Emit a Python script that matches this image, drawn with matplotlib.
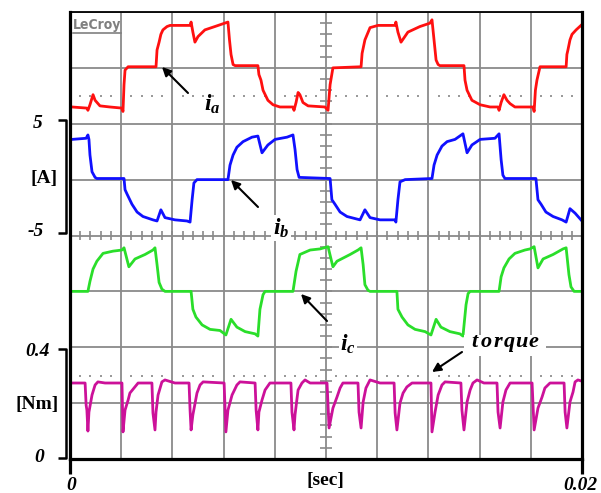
import numpy as np
import matplotlib
matplotlib.use('Agg')
import matplotlib.pyplot as plt
from matplotlib.lines import Line2D
from matplotlib.patches import Rectangle

plt.rcParams['mathtext.fontset'] = 'custom'
plt.rcParams['mathtext.it'] = 'Liberation Serif:italic:bold'
plt.rcParams['mathtext.rm'] = 'Liberation Serif:bold'

# time in ms (0..20 ms = 0..0.02 s), currents in A, torque in Nm
ia_t = [0.08, 0.66, 0.70, 0.78, 0.90, 0.98, 1.17, 1.56, 2.03, 2.07, 2.11, 2.15, 2.27,
        3.36, 3.40, 3.48, 3.55, 3.63, 3.79, 3.91, 4.69, 4.73, 4.80, 4.88, 5.00, 5.27,
        5.66, 6.17, 6.23, 6.29, 6.37, 6.45, 7.34, 7.38, 7.46, 7.54, 7.73, 7.93, 8.20,
        8.71, 8.75, 8.83, 8.91, 8.98, 9.10, 9.30, 9.96, 10.08, 10.16, 10.27, 11.37,
        11.41, 11.52, 11.72, 12.03, 12.70, 12.73, 12.81, 12.93, 13.05, 13.20, 13.67,
        14.06, 14.14, 14.22, 14.30, 14.38, 14.45, 15.39, 15.43, 15.51, 15.70, 16.02,
        16.41, 16.72, 16.76, 16.84, 16.95, 17.07, 17.19, 17.38, 18.09, 18.13, 18.18,
        18.24, 18.36, 19.38, 19.41, 19.45, 19.53, 19.61, 19.77, 19.96]
ia_a = [-3.5, -3.6, -3.8, -3.3, -2.4, -2.9, -3.4, -3.5, -3.6, -3.9, -1.5, -0.2, 0.1,
        0.1, 1.6, 2.3, 3.0, 3.4, 3.7, 3.8, 3.8, 4.1, 3.2, 2.3, 2.8, 3.4,
        3.7, 4.1, 2.5, 1.2, 0.3, 0.2, 0.2, -0.6, -1.1, -2.0, -2.9, -3.3, -3.5,
        -3.5, -3.8, -3.1, -2.2, -2.4, -3.1, -3.4, -3.5, -3.8, -1.5, 0.0, 0.1,
        1.3, 2.5, 3.6, 3.8, 3.8, 4.1, 3.2, 2.3, 2.7, 3.2, 3.7,
        4.0, 4.3, 2.5, 0.7, 0.3, 0.2, 0.2, -1.1, -2.0, -2.9, -3.3,
        -3.5, -3.5, -3.8, -3.1, -2.4, -2.9, -3.2, -3.5, -3.5, -3.9, -2.0,
        -1.1, 0.1, 0.1, 1.2, 1.6, 2.5, 3.0, 3.4, 3.8]

ib_t = [0.08, 0.63, 0.70, 0.74, 0.78, 0.86, 0.98, 1.05, 2.11, 2.15, 2.23, 2.42, 2.62,
        2.85, 3.24, 3.40, 3.55, 3.71, 4.10, 4.57, 4.69, 4.77, 4.84, 4.96, 6.17, 6.25,
        6.37, 6.52, 6.76, 7.11, 7.34, 7.50, 7.73, 8.01, 8.48, 8.71, 8.79, 8.87, 8.95,
        10.16, 10.23, 10.35, 10.55, 10.82, 11.33, 11.52, 11.72, 12.11, 12.70, 12.73,
        12.81, 12.89, 13.09, 14.14, 14.22, 14.34, 14.53, 14.73, 15.04, 15.35, 15.51,
        15.70, 16.02, 16.60, 16.76, 16.84, 16.91, 16.99, 18.20, 18.28, 18.40, 18.59,
        18.87, 19.22, 19.38, 19.53, 19.73, 19.96]
ib_a = [3.6, 3.7, 4.0, 3.6, 2.2, 0.7, 0.2, 0.1, 0.1, -0.9, -1.3, -2.2, -2.9,
        -3.3, -3.6, -3.7, -2.7, -3.4, -3.6, -3.7, -3.8, -1.8, -0.3, 0.0, 0.0, 1.3,
        2.2, 2.9, 3.4, 3.8, 3.9, 2.4, 3.1, 3.6, 3.8, 4.0, 2.7, 0.9, 0.2,
        0.1, -1.8, -2.2, -2.9, -3.3, -3.6, -2.7, -3.4, -3.6, -3.6, -3.8,
        -1.8, -0.2, 0.0, 0.1, 1.3, 2.2, 3.0, 3.4, 3.6, 4.1, 2.4,
        3.1, 3.6, 3.7, 4.1, 1.8, 0.4, 0.1, 0.1, -1.8, -2.2, -2.9,
        -3.3, -3.6, -3.8, -2.6, -3.0, -3.6]

ic_t = [0.08, 0.70, 0.78, 0.90, 1.05, 1.29, 1.68, 2.03, 2.11, 2.30, 2.54, 2.93, 3.24,
        3.32, 3.40, 3.48, 3.59, 3.71, 4.73, 4.80, 4.92, 5.16, 5.47, 5.86, 6.09, 6.29,
        6.52, 6.84, 7.23, 7.34, 7.42, 7.54, 7.62, 8.71, 8.83, 8.98, 9.38, 9.77, 10.08,
        10.27, 10.43, 10.94, 11.25, 11.37, 11.45, 11.52, 11.64, 11.72, 12.77, 12.81,
        12.97, 13.20, 13.48, 13.87, 14.10, 14.30, 14.49, 14.84, 15.23, 15.35, 15.47,
        15.55, 15.63, 16.76, 16.84, 16.95, 17.15, 17.38, 17.77, 17.97, 18.13, 18.28,
        18.48, 18.87, 19.26, 19.38, 19.49, 19.57, 19.69, 19.98]
ic_a = [0.0, 0.0, 0.9, 2.0, 2.7, 3.4, 3.6, 3.7, 3.9, 2.2, 2.9, 3.3, 3.7,
        3.9, 2.4, 0.8, 0.2, 0.0, 0.0, -1.6, -2.3, -3.0, -3.4, -3.5, -3.9, -2.5,
        -3.2, -3.6, -3.8, -4.0, -1.6, -0.3, 0.0, 0.0, 1.8, 3.3, 3.7, 3.8, 4.0,
        2.2, 2.7, 3.3, 3.7, 3.9, 2.4, 0.6, 0.1, 0.0, 0.0, -1.6,
        -2.3, -3.0, -3.4, -3.6, -3.9, -2.5, -3.2, -3.6, -3.8, -4.0, -1.2,
        -0.2, 0.0, 0.0, 1.3, 2.1, 2.9, 3.4, 3.7, 3.8, 4.0, 2.1,
        2.9, 3.3, 3.8, 3.9, 1.5, 0.4, 0.0, 0.0]

tq_t = [0.08, 0.59, 0.63, 0.66, 0.70, 0.74, 0.86, 0.98, 1.09, 1.37, 2.03, 2.07, 2.15,
        2.27, 2.34, 2.50, 2.66, 3.20, 3.24, 3.32, 3.36, 3.44, 3.59, 3.71, 4.10, 4.65,
        4.69, 4.73, 4.80, 4.96, 5.08, 5.20, 6.02, 6.09, 6.17, 6.33, 6.52, 6.64, 7.23,
        7.27, 7.34, 7.38, 7.50, 7.62, 7.81, 8.63, 8.67, 8.75, 8.79, 8.87, 8.91, 9.06,
        9.18, 9.38, 10.04, 10.12, 10.27, 10.43, 10.55, 10.66, 11.25, 11.29, 11.37,
        11.45, 11.56, 11.72, 12.11, 12.66, 12.70, 12.77, 12.89, 13.01, 13.16, 13.36,
        14.10, 14.14, 14.26, 14.38, 14.53, 14.65, 15.27, 15.31, 15.39, 15.51, 15.63,
        15.74, 15.90, 16.17, 16.68, 16.72, 16.80, 16.91, 17.03, 17.19, 18.05, 18.13,
        18.28, 18.44, 18.55, 18.75, 19.30, 19.34, 19.41, 19.53, 19.65, 19.73, 19.84,
        19.98]
tq_nm = [0.272, 0.272, 0.193, 0.175, 0.100, 0.168, 0.229, 0.265, 0.276, 0.272, 0.272,
         0.097, 0.175, 0.211, 0.236, 0.254, 0.272, 0.272, 0.165, 0.104, 0.168, 0.229,
         0.276, 0.283, 0.272, 0.272, 0.175, 0.104, 0.158, 0.236, 0.265, 0.276, 0.272,
         0.097, 0.175, 0.229, 0.265, 0.276, 0.272, 0.175, 0.104, 0.168, 0.211, 0.247,
         0.272, 0.272, 0.168, 0.104, 0.158, 0.218, 0.247, 0.272, 0.283, 0.272, 0.272,
         0.111, 0.182, 0.222, 0.254, 0.272, 0.272, 0.168, 0.111, 0.204, 0.254, 0.283,
         0.272, 0.272, 0.165, 0.104, 0.200, 0.236, 0.258, 0.272, 0.272, 0.097, 0.168,
         0.229, 0.265, 0.276, 0.272, 0.175, 0.104, 0.204, 0.247, 0.272, 0.283, 0.272,
         0.272, 0.168, 0.111, 0.204, 0.247, 0.272, 0.272, 0.104, 0.182, 0.222, 0.254,
         0.272, 0.272, 0.168, 0.111, 0.204, 0.240, 0.276, 0.283, 0.279]

W, H = 601, 493


def fp(x, y):
    # pixel position -> figure fraction
    return x / W, 1 - y / H


def fline(xs, ys, lw=1.6):
    fig.add_artist(Line2D([x / W for x in xs], [1 - y / H for y in ys],
                          transform=fig.transFigure, color='k', lw=lw,
                          solid_capstyle='butt'))


fig = plt.figure(figsize=(6.01, 4.93), dpi=100)
ax = fig.add_axes([70 / W, 1 - 459 / H, 512 / W, 447 / H])

grey = '#8a8a8a'
ax.set_xlim(0, 20)
ax.set_ylim(0, 8)
ax.set_xticks(np.arange(0, 21, 2))
ax.set_yticks(np.arange(0, 9, 1))
ax.tick_params(length=0, labelbottom=False, labelleft=False)
ax.grid(True, color=grey, lw=1.3)
ax.set_axisbelow(True)
for side in ['left', 'bottom', 'right']:
    ax.spines[side].set_linewidth(2.3)
ax.spines['top'].set_linewidth(1.3)

# centre graticule ticks
xs = np.arange(0, 20.01, 0.4)
ax.vlines(xs, 4 - 0.075, 4 + 0.075, color=grey, lw=1.2)
ys = np.arange(0, 8.01, 0.2)
ax.hlines(ys, 10 - 0.23, 10 + 0.23, color=grey, lw=1.2)

# dotted reference markers
dots = np.array([x for x in xs if abs(x / 2 - round(x / 2)) > 0.01])
ax.plot(dots, np.full(len(dots), 6.5), ls='none', marker='s', ms=1.5, mew=0,
        color='#9a9a9a')
ax.plot(dots, np.full(len(dots), 1.49), ls='none', marker='s', ms=1.5, mew=0,
        color='#9a9a9a')

ax.plot(ia_t, 7 + np.array(ia_a) / 5, color='#ff1010', lw=2.0)
ax.plot(ib_t, 5 + np.array(ib_a) / 5, color='#1010ff', lw=2.0)
ax.plot(ic_t, 3 + np.array(ic_a) / 5, color='#2ade2a', lw=2.0)
ax.plot(tq_t, np.array(tq_nm) / 0.2, color='#cc1199', lw=2.0)

# LeCroy logo
fig.text(*fp(73, 25), 'LeCroy', color='#808080', fontsize=10, fontweight='bold',
         fontstretch='condensed', family='DejaVu Sans', va='center', ha='left')
fig.add_artist(Line2D([73 / W, 121 / W], [1 - 33 / H, 1 - 33 / H],
                      transform=fig.transFigure, color='#808080', lw=1.2))

num = dict(family='Liberation Serif', weight='bold', style='italic', size=14,
           ha='center', va='center')
unit = dict(family='Liberation Serif', weight='bold', size=14, ha='center', va='center')

fig.text(*fp(38, 123), '5', **num)
fig.text(*fp(44, 179), '[A]', **unit)
fig.text(*fp(36, 232), '-5', **num)
fig.text(*fp(38, 352), '0.4', **num)
fig.text(*fp(37, 404), '[Nm]', **unit)
fig.text(*fp(39, 457), '0', **num)
fig.text(*fp(71, 485), '0', **num)
fig.text(*fp(325, 481), '[sec]', **unit)
fig.text(*fp(580, 485), '0.02', **num)

# brackets and outer ticks
fline([58, 66, 66, 58], [120, 120, 233, 233], lw=1.8)
fline([58, 66, 66, 58], [349, 349, 458, 458], lw=1.8)
fline([70, 70], [459, 474], lw=2.3)
fline([582, 582], [459, 474], lw=2.3)

# trace labels
lab = dict(size=17, ha='center', va='center')
box = dict(facecolor='white', edgecolor='none', pad=1)
fig.text(*fp(212, 104), r'$i_a$', **lab)
fig.text(*fp(281, 228), r'$i_b$', bbox=box, **lab)
fig.text(*fp(348, 344), r'$i_c$', bbox=box, **lab)

fig.add_artist(Rectangle(fp(464, 356), 82 / W, 21 / H, transform=fig.transFigure,
                         facecolor='white', edgecolor='none'))
for k, ch in enumerate('torque'):
    fig.text(*fp(474 + k * 11.8, 342), ch, family='Liberation Serif', weight='bold',
             style='italic', size=16, ha='center', va='center')

arrow = dict(arrowstyle='-|>', color='k', lw=1.5, mutation_scale=13, shrinkA=0, shrinkB=0)
for tail, head in [((188, 93), (162, 67)), ((258, 207), (231, 180)),
                   ((327, 321), (301, 294)), ((462, 352), (432, 372))]:
    ax.annotate('', xy=fp(*head), xycoords='figure fraction',
                xytext=fp(*tail), textcoords='figure fraction', arrowprops=arrow)

fig.savefig('out.png', dpi=100)
